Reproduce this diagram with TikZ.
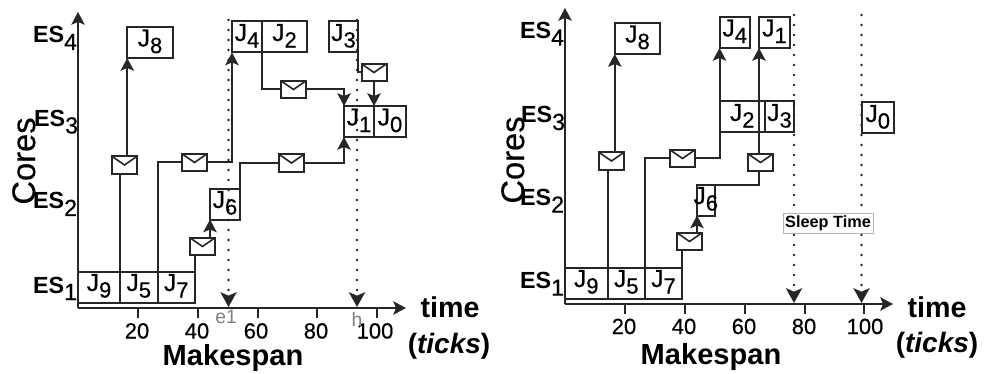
\documentclass[tikz,border=0pt]{standalone}
\usepackage{fontspec}
\setmainfont{Liberation Sans}
\newfontfamily\heavyreg[FakeBold=0.4]{Liberation Sans}
\usetikzlibrary{arrows.meta,backgrounds}
\definecolor{ink}{HTML}{262626}
\newcommand{\Jn}[1]{\smash{\makebox[0pt][c]{\raisebox{-3pt}{\heavyreg\fontsize{18.5pt}{20pt}\selectfont J\raisebox{-4.9pt}{\fontsize{16.5pt}{18pt}\selectfont #1}}}}}
\newcommand{\ESn}[1]{{\fontsize{17.5pt}{20pt}\selectfont\bfseries ES\raisebox{-5.25pt}{\heavyreg\mdseries\fontsize{17.5pt}{20pt}\selectfont #1}}}
\tikzset{
  x=0.75pt,y=-0.75pt,
  inset sep/.style={inner sep=0pt,outer sep=0pt},
  jbox/.style={draw=ink,line width=1.5pt,inset sep,minimum width=#1*0.75pt,minimum height=23.25pt},
  envbox/.style={draw=ink,fill=white,line width=1.5pt,inset sep,minimum width=18.75pt,minimum height=13pt,
    path picture={\draw[ink,line width=1.2pt] (path picture bounding box.north west) -- (path picture bounding box.center) -- (path picture bounding box.north east);}},
  conn/.style={draw=ink,line width=1.5pt},
  arrowed/.style={conn,-{Stealth[length=9.5pt,width=10pt,inset=2pt]}},
  dotline/.style={draw=ink,line width=2pt,line cap=round,dash pattern=on 0pt off 7.5pt,-{Stealth[length=11pt,width=12pt,inset=2.5pt]}},
  esl/.style={inset sep,anchor=base west},
  tickl/.style={inset sep,anchor=base,font=\heavyreg\fontsize{16.5pt}{18pt}\selectfont},
  mkl/.style={inset sep,anchor=base,font=\fontsize{21.8pt}{24pt}\selectfont\bfseries},
  timel/.style={inset sep,anchor=base,font=\fontsize{21.5pt}{24pt}\selectfont\bfseries},
  tickslbl/.style={inset sep,anchor=base,font=\fontsize{21pt}{24pt}\selectfont\bfseries},
  coresl/.style={inset sep,anchor=base,rotate=90,font=\heavyreg\fontsize{24.5pt}{26pt}\selectfont},
  greyl/.style={inset sep,anchor=base,text=gray,font=\fontsize{14.5pt}{16pt}\selectfont},
  sleepl/.style={draw=black!30,line width=0.6pt,fill=white,inset sep,minimum width=67.5pt,minimum height=15pt,font=\fontsize{12.2pt}{14pt}\selectfont\bfseries},
}
\begin{document}
\begin{tikzpicture}
\useasboundingbox (0,0) rectangle (988,374);
% ---------- left panel nodes
\coordinate (aO) at (78,308); \coordinate (aT) at (78,12); \coordinate (aX) at (406,308);
\node[esl] (aes1) at (33,293) {\ESn{1}};
\node[esl] (aes2) at (33,209) {\ESn{2}};
\node[esl] (aes3) at (34,126.5) {\ESn{3}};
\node[esl] (aes4) at (33,43) {\ESn{4}};
\node[coresl] (acores) at (35,161) {Cores};
\node[jbox=42] (aJ9) at (99,287) {\Jn{9}};
\node[jbox=37.5] (aJ5) at (138.75,287) {\Jn{5}};
\node[jbox=37.5] (aJ7) at (176.25,287) {\Jn{7}};
\node[jbox=45.5] (aJ8) at (150,42.5) {\Jn{8}};
\node[jbox=30] (aJ4) at (247,37) {\Jn{4}};
\node[jbox=45] (aJ2) at (284.5,37) {\Jn{2}};
\node[jbox=29] (aJ3) at (343.5,37) {\Jn{3}};
\node[jbox=30] (aJ1) at (359,121.5) {\Jn{1}};
\node[jbox=32] (aJ0) at (390,121.5) {\Jn{0}};
\node[jbox=30] (aJ6) at (225,204) {\Jn{6}};
\node[envbox] (aE1) at (124.5,165) {};
\node[envbox] (aE2) at (194.5,162.5) {};
\node[envbox] (aE3) at (202.5,246.5) {};
\node[envbox] (aE4) at (291.5,163) {};
\node[envbox] (aE5) at (293.5,89.5) {};
\node[envbox] (aE6) at (374,72.5) {};
\foreach \n/\x/\t in {a/138/20,b/198/40,c/258/60,d/317/80,e/377/100}{
  \coordinate (at\n) at (\x,308);
  \coordinate (au\n) at (\x,318);
}
\node[tickl] (al20) at (137,338.5) {20};
\node[tickl] (al40) at (197,338.5) {40};
\node[tickl] (al60) at (256,338.5) {60};
\node[tickl] (al80) at (316,338.5) {80};
\node[tickl] (al100) at (375,338.5) {100};
\node[greyl] (ae1) at (226,323) {e1};
\node[greyl] (ah) at (357,326) {h};
\node[mkl] (amk) at (233,365) {Makespan};
\node[timel] (atime) at (450,317.5) {time};
\node[tickslbl] (aticks) at (449,353) {(\textit{ticks})};
\coordinate (ad1t) at (228.5,20); \coordinate (ad1b) at (228.5,307);
\coordinate (ad2t) at (357,20); \coordinate (ad2b) at (357,307);
% ---------- right panel nodes
\coordinate (bO) at (565,304); \coordinate (bT) at (565,8); \coordinate (bX) at (893,304);
\node[esl] (bes1) at (520,288.7) {\ESn{1}};
\node[esl] (bes2) at (520,205.7) {\ESn{2}};
\node[esl] (bes3) at (521,123) {\ESn{3}};
\node[esl] (bes4) at (520,38.5) {\ESn{4}};
\node[coresl] (bcores) at (524,160) {Cores};
\node[jbox=42.5] (bJ9) at (586.25,283) {\Jn{9}};
\node[jbox=37.5] (bJ5) at (626.25,283) {\Jn{5}};
\node[jbox=37] (bJ7) at (663.5,283) {\Jn{7}};
\node[jbox=45.5] (bJ8) at (637.5,38.5) {\Jn{8}};
\node[jbox=30.5] (bJ4) at (734.75,32.5) {\Jn{4}};
\node[jbox=31] (bJ1) at (774.5,32.5) {\Jn{1}};
\node[jbox=45.5] (bJ2) at (742.25,117) {\Jn{2}};
\node[jbox=29] (bJ3) at (779.5,117) {\Jn{3}};
\node[jbox=32.5] (bJ0) at (877.75,118) {\Jn{0}};
\node[jbox=17.5] (bJ6) at (705.75,200) {\Jn{6}};
\node[envbox] (bE1) at (611.5,161) {};
\node[envbox] (bE2) at (682.5,158.5) {};
\node[envbox] (bE3) at (689.5,241.5) {};
\node[envbox] (bE4) at (760.5,162.5) {};
\foreach \n/\x in {a/625,b/685,c/745,d/804.5,e/864}{
  \coordinate (bt\n) at (\x,304);
  \coordinate (bu\n) at (\x,314);
}
\node[tickl] (bl20) at (624,334) {20};
\node[tickl] (bl40) at (684,334) {40};
\node[tickl] (bl60) at (744,334) {60};
\node[tickl] (bl80) at (804,334) {80};
\node[tickl] (bl100) at (865,334) {100};
\node[mkl] (bmk) at (711,364) {Makespan};
\node[timel] (btime) at (937,317) {time};
\node[tickslbl] (bticks) at (937,352) {(\textit{ticks})};
\node[sleepl] (bsleep) at (828,223) {Sleep Time};
\coordinate (bd1t) at (794,15); \coordinate (bd1b) at (794,303);
\coordinate (bd2t) at (861.5,15); \coordinate (bd2b) at (861.5,303);
% ---------- connectors
\begin{pgfonlayer}{background}
\fill[white] (0,0) rectangle (988,374);
% left
\draw[arrowed] (aO) -- (aT);
\draw[arrowed] (aO) -- (aX);
\foreach \n in {a,b,c,d,e}{\draw[conn] (at\n) -- (au\n);}
\draw[conn] (aJ9.north east) -- (aJ9.north east |- aE1.south);
\draw[arrowed] (aJ8.south west |- aE1.north) -- (aJ8.south west);
\draw[conn] (aJ5.north east) |- (aE2.west);
\draw[arrowed] (aE2.east) -| (aJ4.south west);
\draw[conn] (aJ7.north east) -- (aJ7.north east |- aE3.south);
\draw[arrowed] (aJ6.south west |- aE3.north) -- (aJ6.south west);
\draw[conn] (aJ6.north east) |- (aE4.west);
\draw[arrowed] (aE4.east) -| (aJ1.south west);
\draw[conn] (aJ2.south west) |- (aE5.west);
\draw[arrowed] (aE5.east) -| (aJ1.north west);
\draw[conn] (aJ3.south east) |- (aE6.west);
\draw[arrowed] (aE6.south) -- (aJ1.north east);
\draw[dotline] (ad1t) -- (ad1b);
\draw[dotline] (ad2t) -- (ad2b);
% right
\draw[arrowed] (bO) -- (bT);
\draw[arrowed] (bO) -- (bX);
\foreach \n in {a,b,c,d,e}{\draw[conn] (bt\n) -- (bu\n);}
\draw[conn] (bJ9.north east) -- (bJ9.north east |- bE1.south);
\draw[arrowed] (bJ8.south west |- bE1.north) -- (bJ8.south west);
\draw[conn] (bJ5.north east) |- (bE2.west);
\draw[arrowed] (bE2.east) -| (bJ4.south west);
\draw[conn] (bJ7.north east) -- (bJ7.north east |- bE3.south);
\draw[arrowed] (bJ6.south west |- bE3.north) -- (bJ6.south west);
\draw[conn] (bJ6.north west) -| (bJ1.south west |- bE4.south);
\draw[arrowed] (bJ1.south west |- bE4.north) -- (bJ1.south west);
\draw[dotline] (bd1t) -- (bd1b);
\draw[dotline] (bd2t) -- (bd2b);
\end{pgfonlayer}
\end{tikzpicture}
\end{document}
